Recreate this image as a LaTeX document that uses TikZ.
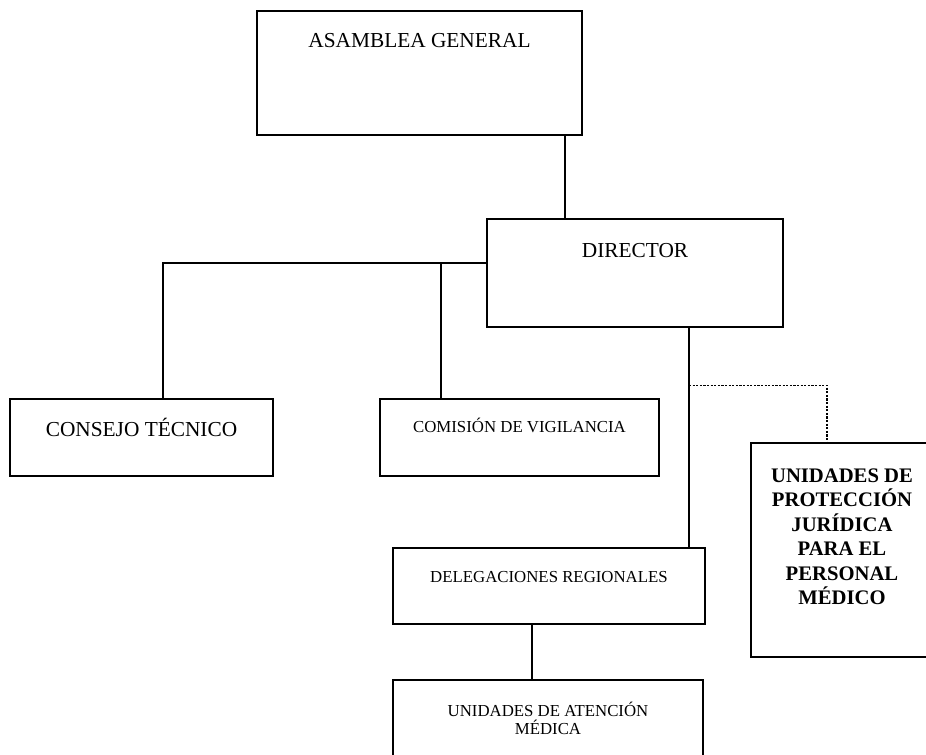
\documentclass[tikz,border=0pt]{standalone}
\usepackage{fontspec}
\setmainfont{Liberation Serif}
\usetikzlibrary{calc}

\tikzset{
  orgbox/.style={draw, line width=1.9pt, inner xsep=0pt, inner ysep=0pt, font=\fontsize{16}{19}\selectfont},
  smallbox/.style={orgbox, font=\fontsize{12.6}{13.5}\selectfont},
  link/.style={line width=0.8pt},
  dotlink/.style={line width=0.8pt, dash pattern=on 1.6pt off 1.1pt},
}

\begin{document}
\begin{tikzpicture}[x=0.75pt,y=0.75pt,yscale=-1,xscale=1]
\useasboundingbox (0,0) rectangle (926,755);

%Boxes
\node [orgbox, minimum width=243.75pt, text height=27.4pt, text depth=65.6pt] (asamblea) at (419.5,73) {ASAMBLEA GENERAL};
\node [orgbox, minimum width=222pt, text height=28.9pt, text depth=52.1pt] (director) at (635,273) {DIRECTOR};
\node [orgbox, minimum width=197.25pt, text height=28.1pt, text depth=29.6pt] (consejo) at (141.5,437.5) {CONSEJO TÉCNICO};
\node [smallbox, minimum width=209.25pt, text height=25.5pt, text depth=32.25pt] (comision) at (519.5,437.5) {COMISIÓN DE VIGILANCIA};
\node [smallbox, minimum width=234pt, text height=26.25pt, text depth=30.75pt] (delegaciones) at (549,586) {DELEGACIONES REGIONALES};
\node [smallbox, minimum width=232.5pt, text height=41pt, text depth=26.5pt, align=center] (atencion) at (548,725) {UNIDADES DE ATENCIÓN\\MÉDICA};
\node [orgbox, minimum width=136.5pt, text height=121.5pt, text depth=39pt, align=center, font=\fontsize{15.5}{18.45}\selectfont\bfseries] (proteccion) at (842,550) {UNIDADES DE\\PROTECCIÓN\\JURÍDICA\\PARA EL\\PERSONAL\\MÉDICO};

%Connectors
\draw [link] ($(asamblea.south)+(145.5,0)$) coordinate (a1) -- (a1 |- director.north) ;
\draw [link] ($(director.west)+(0,-10)$) coordinate (d0) -| ($(consejo.north)+(21.5,0)$) ;
\draw [link] ($(comision.north)+(-78.5,0)$) coordinate (c1) -- (c1 |- d0) ;
\draw [link] ($(director.south)+(54,0)$) coordinate (d1) -- (d1 |- delegaciones.north) ;
\coordinate (branch) at ($(d1)+(0,57)$);
\draw [dotlink] (branch) -| ($(proteccion.north)+(-15,0)$) ;
\draw [link, line width=1.3pt] ($(delegaciones.south)+(-17,0)$) coordinate (g1) -- (g1 |- atencion.north) ;

\end{tikzpicture}
\end{document}
